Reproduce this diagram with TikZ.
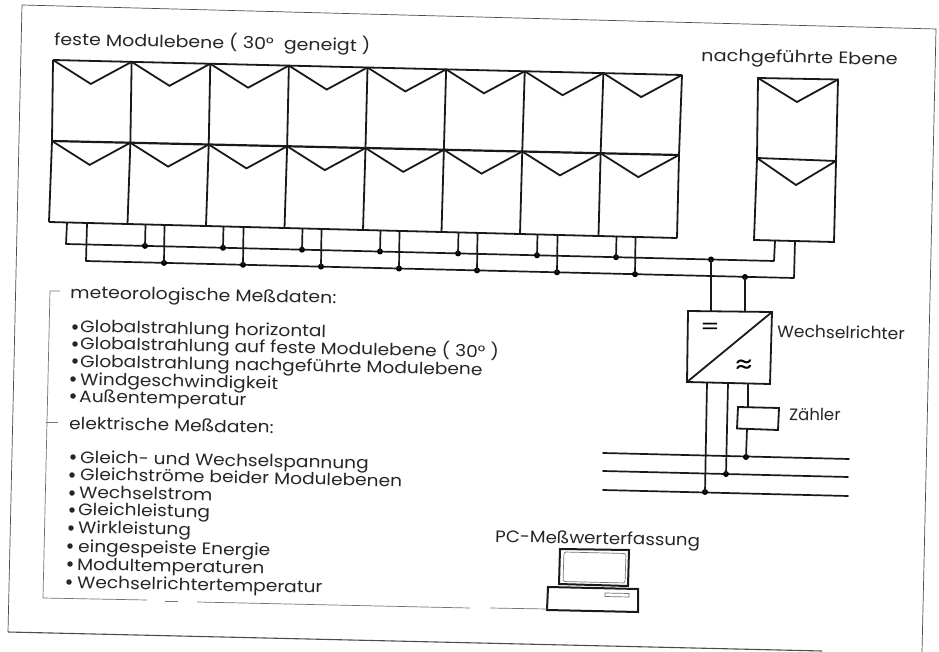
\documentclass[tikz,border=0pt]{standalone}
\usepackage{fontspec}
\setmainfont{Poppins}
\usetikzlibrary{calc}
\newcommand{\fs}[1]{\fontsize{#1}{#1}\selectfont}
\tikzset{
  wire/.style={draw=black!90,line width=1.7pt,line cap=round,line join=round},
  modline/.style={draw=black!90,line width=1.8pt,line join=miter},
  thinframe/.style={draw=black!70,line width=0.7pt},
  scanline/.style={draw=black!55,line width=0.7pt},
  dotnode/.style={circle,fill=black,inner sep=0pt,minimum size=6pt},
  txt/.style={anchor=base west,inner sep=0pt,rotate=-1.2,xscale=1.12,text=black!85,font=\fs{16.6}},
  bul/.style={circle,fill=black!85,inner sep=0pt,minimum size=5.5pt}
}
\begin{document}
\begin{tikzpicture}[x=1pt,y=-1pt]
\useasboundingbox (0,0) rectangle (939,652);
\fill[white] (0,0) rectangle (939,652);
% outer frame
\coordinate (fa) at (22,5);
\coordinate (fb) at (936,29);
\coordinate (fc) at (922,652);
\coordinate (fd) at (8,632);
\coordinate (fe) at (822,651);
\draw[thinframe] (fa) -- (fb) -- (fc);
\draw[thinframe] (fa) -- (fd);
\draw[thinframe,line width=1.1pt] (fd) -- (fe);
% fixed array
\coordinate (TL) at (53,60);  \coordinate (TR) at (682,75);
\coordinate (ML) at (52,141); \coordinate (MR) at (679,155);
\coordinate (BL) at (49,222); \coordinate (BR) at (677,238);
\foreach \i in {0,...,8}{
  \coordinate (t\i) at ($(TL)!\i/8!(TR)$);
  \coordinate (m\i) at ($(ML)!\i/8!(MR)$);
  \coordinate (b\i) at ($(BL)!\i/8!(BR)$);
  \draw[modline] (t\i) -- (m\i) -- (b\i);
}
\draw[modline] (TL) -- (TR);
\draw[modline,line width=2.2pt] (ML) -- (MR);
\draw[modline] (BL) -- (BR);
\foreach \i [evaluate=\i as \j using int(\i+1)] in {0,...,7}{
  \draw[modline] (t\i) -- ($(t\i)!0.5!(t\j)+(-1.5,23)$) -- (t\j);
  \draw[modline] (m\i) -- ($(m\i)!0.5!(m\j)+(-1.5,23)$) -- (m\j);
}
% tracked array
\coordinate (nTL) at (758,78);  \coordinate (nTR) at (838,79.5);
\coordinate (nML) at (757,158); \coordinate (nMR) at (836,161);
\coordinate (nBL) at (754,240); \coordinate (nBR) at (834,242);
\coordinate (nD1) at (797,102); \coordinate (nD2) at (796,185);
\draw[modline] (nTL) -- (nTR) -- (nMR) -- (nBR) -- (nBL) -- (nML) -- cycle;
\draw[modline] (nML) -- (nMR);
\draw[modline] (nTL) -- (nD1) -- (nTR);
\draw[modline] (nML) -- (nD2) -- (nMR);
% buses
\coordinate (a0) at (67,223);  \coordinate (a1) at (66,244);
\coordinate (a2) at (774,261); \coordinate (a3) at (775,241);
\coordinate (c0) at (87,224);  \coordinate (c1) at (86,261);
\coordinate (c2) at (794,278); \coordinate (c3) at (795,241);
\draw[wire] (a0) -- (a1) -- (a2) -- (a3);
\draw[wire] (c0) -- (c1) -- (c2) -- (c3);
\foreach \n/\x/\y/\u in {p1/145/245.9/224.4,p2/223/247.8/226.4,p3/302/249.7/228.4,p4/380/251.5/230.4,p5/458/253.4/232.4,p6/537/255.3/234.4,p7/616/257.2/236.5,
 q1/164/262.9/224.9,q2/243/264.8/227,q3/321/266.6/229,q4/399/268.5/231,q5/477/270.4/233,q6/557/272.3/235,q7/635/274.2/237}{
  \node[dotnode] (\n) at (\x,\y) {};
  \coordinate (\n u) at (\x+0.5,\u);
  \draw[wire] (\n.center) -- (\n u);
}
% inverter
\coordinate (iTL) at (688,311); \coordinate (iTR) at (772,312);
\coordinate (iBR) at (770,384); \coordinate (iBL) at (687,382);
\draw[modline] (iTL) -- (iTR) -- (iBR) -- (iBL) -- cycle;
\draw[modline] (iBL) -- (iTR);
\node[dotnode] (jA) at (711,259.5) {};
\node[dotnode] (jB) at (745,277) {};
\coordinate (iA) at (711,311); \coordinate (iB) at (745,311.5);
\draw[wire] (jA.center) -- (iA);
\draw[wire] (jB.center) -- (iB);
\node[inner sep=0pt,xscale=1.25,font=\fs{22}] (symdc) at (710,329) {=};
\node[inner sep=0pt,xscale=1.3,font=\fs{26}] (symac) at (744,367) {≈};
\node[txt,xscale=0.92] (wr) at (777,337) {Wechselrichter};
% grid
\coordinate (g1a) at (603,453); \coordinate (g1b) at (849,459);
\coordinate (g2a) at (603,471); \coordinate (g2b) at (848,477);
\coordinate (g3a) at (603,490); \coordinate (g3b) at (848,496);
\draw[wire] (g1a) -- (g1b);
\draw[wire] (g2a) -- (g2b);
\draw[wire] (g3a) -- (g3b);
\node[dotnode] (d1) at (746,457) {};
\node[dotnode] (d2) at (726,474) {};
\node[dotnode] (d3) at (705,492) {};
\coordinate (o3) at (707,383); \coordinate (o2) at (728,383.5); \coordinate (o1) at (748,384.5);
\draw[wire] (o3) -- (d3.center);
\draw[wire] (o2) -- (d2.center);
% meter
\coordinate (zTL) at (738,407); \coordinate (zTR) at (779,408);
\coordinate (zBR) at (778,430); \coordinate (zBL) at (737,428.5);
\draw[modline] (zTL) -- (zTR) -- (zBR) -- (zBL) -- cycle;
\coordinate (zT) at (748,407.3); \coordinate (zB) at (747,429);
\draw[wire] (o1) -- (zT);
\draw[wire] (zB) -- (d1.center);
\node[txt,xscale=0.89] (zl) at (789,420) {Zähler};
% PC
\coordinate (s1) at (560,549); \coordinate (s2) at (629,550);
\coordinate (s3) at (628,586); \coordinate (s4) at (559,584);
\draw[modline,line width=2pt] (s1) -- (s2) -- (s3) -- (s4) -- cycle;
\draw[scanline,rounded corners=2pt] (564,552) -- (626,553.5) -- (625,583) -- (563,581.5) -- cycle;
\coordinate (k1) at (548,587); \coordinate (k2) at (638,589);
\coordinate (k3) at (638,612); \coordinate (k4) at (547,610);
\draw[modline,line width=2pt] (k1) -- (k2) -- (k3) -- (k4) -- cycle;
\draw[scanline] (605,593) -- (629,593.5) -- (629,597) -- (605,596.5) -- cycle;
\node[txt,xscale=0.98] (pc) at (495,542) {PC-Meßwerterfassung};
% scan leftovers of the inner frame
\coordinate (r0) at (60,291); \coordinate (r1) at (50,291); \coordinate (r2) at (43,598);
\coordinate (r3) at (147,600); \coordinate (r4) at (165,601); \coordinate (r5) at (178,601);
\coordinate (r6) at (197,602); \coordinate (r7) at (470,608); \coordinate (r8) at (490,608);
\coordinate (r9) at (547,609); \coordinate (r10) at (46,422); \coordinate (r11) at (58,422);
\draw[scanline] (r0) -- (r1) -- (r2) -- (r3);
\draw[scanline] (r4) -- (r5);
\draw[scanline] (r6) -- (r7);
\draw[scanline] (r8) -- (r9);
\draw[scanline] (r10) -- (r11);
% titles
\node[txt,xscale=1.02] (tfest) at (54,45) {feste Modulebene ( 30°\ \ geneigt )};
\node[txt,xscale=1.04] (tnach) at (701,61) {nachgeführte Ebene};
\node[txt,xscale=1.015] (tmet) at (70,298) {meteorologische Meßdaten:};
\node[txt] (tel) at (69,429) {elektrische Meßdaten:};
% lists
\foreach \n/\bx/\tx/\by/\y/\s in {
 a/75/80/327/332/Globalstrahlung horizontal,
 b/75/80/344/349/Globalstrahlung auf feste Modulebene ( 30° ),
 c/75/80/361/367/Globalstrahlung nachgeführte Modulebene,
 d/73/80/379/385/Windgeschwindigkeit,
 e/73/79/396/402/Außentemperatur,
 f/73/80/457/463/Gleich- und Wechselspannung,
 g/72/80/475/480/Gleichströme beider Modulebenen,
 h/72/79/493/498/Wechselstrom,
 i/72/78/510/515/Gleichleistung,
 j/71/78/528/533/Wirkleistung,
 k/70/78/546/552/eingespeiste Energie,
 l/70/77/564/570/Modultemperaturen,
 m/69/77/582/588/Wechselrichtertemperatur}{
  \node[bul] (bu\n) at (\bx,\by) {};
  \node[txt] (li\n) at (\tx,\y) {\s};
}
\end{tikzpicture}
\end{document}
